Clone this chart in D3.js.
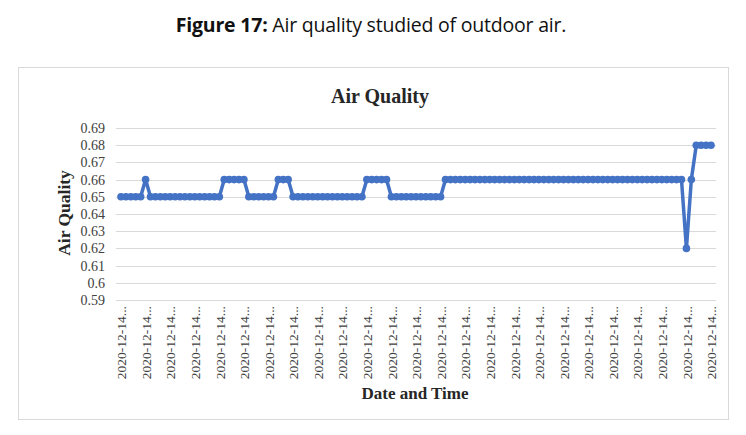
<!DOCTYPE html>
<html>
<head>
<meta charset="utf-8">
<script src="https://cdn.jsdelivr.net/npm/d3@7"></script>
<style>
  body { margin: 0; background: #fff; }
</style>
</head>
<body>
<script>
// air quality readings, one per time stamp
var airQuality = [
  0.65, 0.65, 0.65, 0.65, 0.65, 0.66, 0.65, 0.65, 0.65, 0.65,
  0.65, 0.65, 0.65, 0.65, 0.65, 0.65, 0.65, 0.65, 0.65, 0.65,
  0.65, 0.66, 0.66, 0.66, 0.66, 0.66, 0.65, 0.65, 0.65, 0.65,
  0.65, 0.65, 0.66, 0.66, 0.66, 0.65, 0.65, 0.65, 0.65, 0.65,
  0.65, 0.65, 0.65, 0.65, 0.65, 0.65, 0.65, 0.65, 0.65, 0.65,
  0.66, 0.66, 0.66, 0.66, 0.66, 0.65, 0.65, 0.65, 0.65, 0.65,
  0.65, 0.65, 0.65, 0.65, 0.65, 0.65, 0.66, 0.66, 0.66, 0.66,
  0.66, 0.66, 0.66, 0.66, 0.66, 0.66, 0.66, 0.66, 0.66, 0.66,
  0.66, 0.66, 0.66, 0.66, 0.66, 0.66, 0.66, 0.66, 0.66, 0.66,
  0.66, 0.66, 0.66, 0.66, 0.66, 0.66, 0.66, 0.66, 0.66, 0.66,
  0.66, 0.66, 0.66, 0.66, 0.66, 0.66, 0.66, 0.66, 0.66, 0.66,
  0.66, 0.66, 0.66, 0.66, 0.66, 0.62, 0.66, 0.68, 0.68, 0.68,
  0.68
];

// every fifth time stamp gets a (truncated) label
var labelStep = 5;
var xLabels = [
  "2020-12-14...", "2020-12-14...", "2020-12-14...", "2020-12-14...", "2020-12-14...",
  "2020-12-14...", "2020-12-14...", "2020-12-14...", "2020-12-14...", "2020-12-14...",
  "2020-12-14...", "2020-12-14...", "2020-12-14...", "2020-12-14...", "2020-12-14...",
  "2020-12-14...", "2020-12-14...", "2020-12-14...", "2020-12-14...", "2020-12-14...",
  "2020-12-14...", "2020-12-14...", "2020-12-14...", "2020-12-14...", "2020-12-14..."
];

var yTicks = [0.59, 0.6, 0.61, 0.62, 0.63, 0.64, 0.65, 0.66, 0.67, 0.68, 0.69];

var width = 746,
    height = 435;

var svg = d3.select("body")
    .append("svg")
    .attr("width", width)
    .attr("height", height);

//figure caption
var caption = svg.append("text")
    .attr("x", 371)
    .attr("y", 32)
    .attr("text-anchor", "middle")
    .style("font-family", "'Open Sans', sans-serif")
    .style("font-size", "19.5px")
    .style("letter-spacing", "-0.2px")
    .style("fill", "#111");
caption.append("tspan").style("font-weight", "bold").text("Figure 17:");
caption.append("tspan").text(" Air quality studied of outdoor air.");

//chart frame
svg.append("rect")
    .attr("x", 18.5)
    .attr("y", 67.5)
    .attr("width", 710)
    .attr("height", 352)
    .attr("fill", "#fff")
    .attr("stroke", "#d9d9d9");

//plot area
var plotLeft = 121, plotRight = 711, plotTop = 128, plotBottom = 300;

var x = d3.scaleLinear()
    .domain([0, airQuality.length - 1])
    .range([plotLeft, plotRight]);

var y = d3.scaleLinear()
    .domain([0.59, 0.69])
    .range([plotBottom, plotTop]);

//gridlines
svg.selectAll(".grid")
    .data(yTicks)
    .enter()
    .append("line")
    .attr("class", "grid")
    .attr("x1", 116)
    .attr("x2", 716)
    .attr("y1", function(d){ return Math.round(y(d)) + 0.5; })
    .attr("y2", function(d){ return Math.round(y(d)) + 0.5; })
    .attr("stroke", "#d9d9d9")
    .attr("stroke-width", 1);

//y axis
var yAxis = svg.append("g")
    .attr("transform", "translate(116,0)")
    .call(d3.axisLeft(y).tickValues(yTicks).tickSize(0).tickPadding(11)
        .tickFormat(function(d){ return String(+d.toFixed(2)); }));
yAxis.select(".domain").remove();
yAxis.selectAll("text")
    .style("font-family", "'Liberation Serif', 'Times New Roman', serif")
    .style("font-size", "14px")
    .style("fill", "#404040");

//x axis labels
var labelIdx = xLabels.map(function(d, i){ return i * labelStep; });
var xAxis = svg.append("g")
    .attr("transform", "translate(0," + plotBottom + ")")
    .call(d3.axisBottom(x).tickValues(labelIdx).tickSize(0)
        .tickFormat(function(d, i){ return xLabels[i]; }));
xAxis.select(".domain").remove();
xAxis.selectAll("text")
    .attr("transform", "rotate(-90)")
    .attr("x", -6)
    .attr("y", 0)
    .attr("dy", "0.35em")
    .attr("text-anchor", "end")
    .style("font-family", "'Liberation Serif', 'Times New Roman', serif")
    .style("font-size", "13.5px")
    .style("fill", "#404040");

//line and markers
var line = d3.line()
    .x(function(d, i){ return x(i); })
    .y(function(d){ return y(d); });

svg.append("path")
    .datum(airQuality)
    .attr("fill", "none")
    .attr("stroke", "#4472C4")
    .attr("stroke-width", 3.5)
    .attr("stroke-linejoin", "round")
    .attr("d", line);

svg.selectAll(".dot")
    .data(airQuality)
    .enter()
    .append("circle")
    .attr("class", "dot")
    .attr("cx", function(d, i){ return x(i); })
    .attr("cy", function(d){ return y(d); })
    .attr("r", 3.8)
    .attr("fill", "#4472C4");

//titles
svg.append("text")
    .attr("x", 380)
    .attr("y", 103)
    .attr("text-anchor", "middle")
    .style("font-family", "'Liberation Serif', 'Times New Roman', serif")
    .style("font-weight", "bold")
    .style("font-size", "20px")
    .style("fill", "#262626")
    .text("Air Quality");

svg.append("text")
    .attr("transform", "translate(70,213) rotate(-90)")
    .attr("text-anchor", "middle")
    .style("font-family", "'Liberation Serif', 'Times New Roman', serif")
    .style("font-weight", "bold")
    .style("font-size", "17.5px")
    .style("fill", "#262626")
    .text("Air Quality");

svg.append("text")
    .attr("x", 415)
    .attr("y", 399)
    .attr("text-anchor", "middle")
    .style("font-family", "'Liberation Serif', 'Times New Roman', serif")
    .style("font-weight", "bold")
    .style("font-size", "17px")
    .style("fill", "#262626")
    .text("Date and Time");
</script>
</body>
</html>
